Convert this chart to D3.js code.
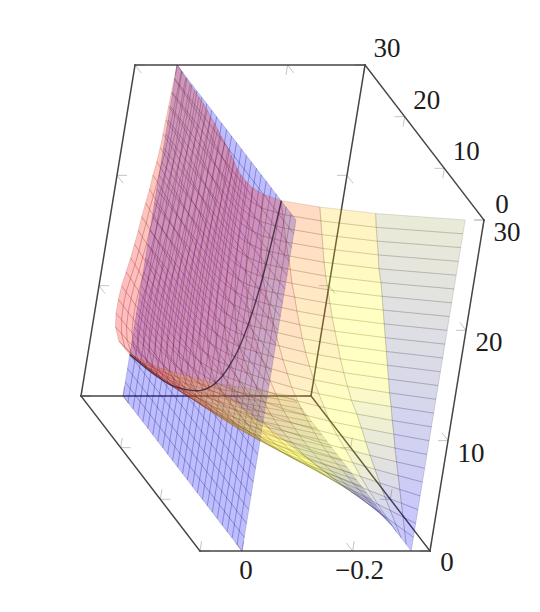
<!DOCTYPE html>
<html>
<head>
<meta charset="utf-8">
<script src="https://cdn.jsdelivr.net/npm/d3@7"></script>
<style>
  html, body { margin: 0; padding: 0; background: #fff; }
  text { font-family: "Liberation Serif", "DejaVu Serif", serif; font-size: 27px; fill: #1c1c1c; }
  .soft { filter: blur(0.45px); }
</style>
</head>
<body>
<div id="chart"></div>
<script>
'use strict';

// mesh positions along y and z
const gridSteps = [0, 1.25, 2.5, 3.75, 5, 6.25, 7.5, 8.75, 10, 11.25, 12.5, 13.75, 15,
    16.25, 17.5, 18.75, 20, 21.25, 22.5, 23.75, 25, 26.25, 27.5, 28.75, 30];

// surface x * 1000. Surface mirrors in y/z so only j <= i is listed
const surfaceRows = [
    [-306],
    [-306,-299],
    [-306,-292,-278],
    [-306,-285,-264,-244],
    [-306,-278,-251,-225,-201],
    [-306,-271,-238,-207,-175,-148],
    [-306,-264,-225,-189,-153,-125,-100],
    [-306,-257,-213,-170,-134,-104,-79,-58],
    [-306,-251,-201,-153,-116,-85,-61,-39,-19],
    [-306,-244,-189,-139,-100,-70,-44,-21,0,12],
    [-306,-238,-175,-125,-85,-55,-29,-4,11,21,27],
    [-306,-231,-164,-112,-73,-42,-14,7,19,26,31,34],
    [-306,-225,-153,-100,-61,-29,0,15,24,30,34,36,37],
    [-306,-219,-143,-89,-50,-16,8,21,29,33,36,37,37,37],
    [-306,-213,-134,-79,-39,-4,15,26,31,35,37,37,37,36,34],
    [-306,-207,-125,-70,-29,5,20,28,34,36,37,37,36,34,32,29],
    [-306,-201,-116,-61,-19,11,24,31,35,37,37,36,35,32,29,27,25],
    [-306,-195,-108,-53,-9,16,27,33,36,37,37,35,33,29,27,25,23,21],
    [-306,-189,-100,-44,0,21,30,35,37,37,36,34,31,28,25,23,21,19,17],
    [-306,-183,-92,-37,6,24,32,36,37,37,35,32,29,26,24,21,19,17,15,13],
    [-306,-175,-85,-29,11,27,34,37,37,36,33,30,27,25,22,20,18,15,13,11,9],
    [-306,-170,-79,-21,15,28,35,37,37,35,32,28,25,23,21,18,16,13,11,9,7,5],
    [-306,-164,-73,-14,19,31,36,37,36,34,30,27,24,22,19,17,14,12,9,7,5,4,3],
    [-306,-158,-67,-7,22,32,36,37,36,32,28,25,23,20,18,15,12,10,7,6,5,4,3,2],
    [-306,-153,-61,0,24,34,37,37,35,31,27,24,21,19,16,13,11,8,6,5,4,3,2,1,0]
];

// curve where the surface crosses the x = 0 plane
const curveY = [3.7, 4, 4.5, 5, 6, 7, 8, 10, 12, 14, 16.4, 20, 24, 30];
const curveZ = [30, 28, 25, 22.4, 18.7, 16, 14, 11.2, 9.3, 8, 6.9, 5.6, 4.7, 3.75];

const xTicks = [0, -0.2];
const xTickLabels = ['0', '\u22120.2'];
const yTicks = [0, 10, 20, 30];
const zTicks = [0, 10, 20, 30];

const xMin = -0.34, xMax = 0.076, yMax = 30, zMax = 30;
const width = 540, height = 612;

const svg = d3.select('#chart').append('svg')
    .attr('width', width)
    .attr('height', height)
    .style('display', 'block');

// oblique axes: every data axis moves the point along its own screen vector
const xPos = d3.scaleLinear().domain([xMin, xMax]).range([430, 200]);
const yShiftX = d3.scaleLinear().domain([0, yMax]).range([0, -119]);
const yShiftY = d3.scaleLinear().domain([0, yMax]).range([0, -155]);
const zShiftX = d3.scaleLinear().domain([0, zMax]).range([0, 54]);
const zShiftY = d3.scaleLinear().domain([0, zMax]).range([0, -331]);

function project(x, y, z) {
    return [xPos(x) + yShiftX(y) + zShiftX(z), 551 + yShiftY(y) + zShiftY(z)];
}

// larger = closer to the viewer
function depth(x, y, z) {
    return 1.34 * (x - xMin) / (xMax - xMin) - 2.135 * y / yMax + z / zMax;
}

const line = d3.line();
const colorScale = d3.scaleLinear()
    .domain([-0.306, -0.19, -0.15, 0.037])
    .range(['#0000ff', '#ffff00', '#ffff00', '#ff0000']);

function surfaceX(i, j) {
    return (i >= j ? surfaceRows[i][j] : surfaceRows[j][i]) / 1000;
}

// Box
const boxGroup = svg.append('g').attr('class', 'soft');
const boxEdges = [
    [[xMin, yMax, 0], [xMax, yMax, 0]],
    [[xMin, yMax, 0], [xMin, 0, 0]],
    [[xMin, yMax, 0], [xMin, yMax, zMax]],
    [[xMax, 0, 0], [xMax, yMax, 0]],
    [[xMax, yMax, 0], [xMax, yMax, zMax]],
    [[xMax, yMax, zMax], [xMin, yMax, zMax]],
    [[xMin, yMax, zMax], [xMin, 0, zMax]],
    [[xMin, 0, zMax], [xMin, 0, 0]],
    [[xMin, 0, 0], [xMax, 0, 0]]
];

// Ticks: two short stubs on the panels that meet at each box edge
const stubLen = 10;
function stub(from, axis, sign) {
    const step = [0, 0, 0];
    step[axis] = [xMax - xMin, yMax, zMax][axis] * 0.02;
    const to = from.map((v, k) => v + sign * step[k]);
    const a = project(...from), b = project(...to);
    const len = Math.hypot(b[0] - a[0], b[1] - a[1]);
    return [a, [a[0] + (b[0] - a[0]) * stubLen / len, a[1] + (b[1] - a[1]) * stubLen / len]];
}

const tickPaths = [];
xTicks.forEach(t => {
    [[0, 0], [yMax, 0], [yMax, zMax]].forEach(([y, z]) => {
        tickPaths.push(stub([t, y, z], 1, y === 0 ? 1 : -1));
        tickPaths.push(stub([t, y, z], 2, z === 0 ? 1 : -1));
    });
});
yTicks.forEach(t => {
    [[xMax, 0], [xMin, 0], [xMin, zMax]].forEach(([x, z]) => {
        tickPaths.push(stub([x, t, z], 0, x === xMin ? 1 : -1));
        tickPaths.push(stub([x, t, z], 2, z === 0 ? 1 : -1));
    });
});
zTicks.forEach(t => {
    [[xMax, yMax], [xMin, yMax], [xMin, 0]].forEach(([x, y]) => {
        tickPaths.push(stub([x, y, t], 0, x === xMin ? 1 : -1));
        tickPaths.push(stub([x, y, t], 1, y === 0 ? 1 : -1));
    });
});

boxGroup.selectAll('.tick-stub')
    .data(tickPaths)
    .enter().append('path')
    .attr('class', 'tick-stub')
    .attr('d', d => line(d))
    .attr('fill', 'none')
    .attr('stroke', '#bdbdbd')
    .attr('stroke-width', 0.9);

boxGroup.selectAll('.box-edge')
    .data(boxEdges)
    .enter().append('path')
    .attr('class', 'box-edge')
    .attr('d', d => line(d.map(p => project(...p))))
    .attr('fill', 'none')
    .attr('stroke', '#454545')
    .attr('stroke-width', 1.5)
    .attr('stroke-linecap', 'square');

// Blue plane at x = 0
const planeCells = [];
gridSteps.slice(0, -1).forEach((y, i) => {
    gridSteps.slice(0, -1).forEach((z, j) => {
        const y1 = gridSteps[i + 1], z1 = gridSteps[j + 1];
        planeCells.push([[0, y, z], [0, y1, z], [0, y1, z1], [0, y, z1]]);
    });
});
planeCells.sort((a, b) => d3.mean(a, p => depth(...p)) - d3.mean(b, p => depth(...p)));

svg.append('g').attr('class', 'soft').selectAll('.plane-cell')
    .data(planeCells)
    .enter().append('path')
    .attr('class', 'plane-cell')
    .attr('d', d => line(d.map(p => project(...p))) + 'Z')
    .attr('fill', '#0000ff')
    .attr('fill-opacity', 0.26)
    .attr('stroke', '#000060')
    .attr('stroke-opacity', 0.24)
    .attr('stroke-width', 0.7);

// Colored surface
const surfaceCells = [];
gridSteps.slice(0, -1).forEach((y, i) => {
    gridSteps.slice(0, -1).forEach((z, j) => {
        const corners = [[i, j], [i + 1, j], [i + 1, j + 1], [i, j + 1]]
            .map(([a, b]) => [surfaceX(a, b), gridSteps[a], gridSteps[b]]);
        surfaceCells.push(corners);
    });
});
surfaceCells.sort((a, b) => d3.mean(a, p => depth(...p)) - d3.mean(b, p => depth(...p)));

svg.append('g').attr('class', 'soft').selectAll('.surface-cell')
    .data(surfaceCells)
    .enter().append('path')
    .attr('class', 'surface-cell')
    .attr('d', d => line(d.map(p => project(...p))) + 'Z')
    .attr('fill', d => colorScale(d3.mean(d, p => p[0])))
    .attr('fill-opacity', d => d3.mean(d, p => p[0]) > -0.02 ? 0.26 : 0.23)
    .attr('stroke', d => d3.interpolateRgb(colorScale(d3.mean(d, p => p[0])), '#000')(0.6))
    .attr('stroke-opacity', 0.22)
    .attr('stroke-width', 0.7);

// Intersection curve
svg.append('path')
    .attr('class', 'soft')
    .attr('d', d3.line().curve(d3.curveCatmullRom)(curveY.map((y, i) => project(0, y, curveZ[i]))))
    .attr('fill', 'none')
    .attr('stroke', '#3a2440')
    .attr('stroke-opacity', 0.85)
    .attr('stroke-width', 1.4);

// Tick labels
const labels = svg.append('g');
function addLabel(pos, dx, dy, txt) {
    labels.append('text')
        .attr('x', pos[0] + dx)
        .attr('y', pos[1] + dy)
        .attr('text-anchor', 'middle')
        .text(txt);
}
xTicks.forEach((t, i) => addLabel(project(t, 0, 0), i === 0 ? 4 : 7, 28, xTickLabels[i]));
zTicks.forEach(t => addLabel(project(xMin, 0, t), t === 0 ? 17 : 23, t === 0 ? 20 : 21, String(t)));
yTicks.forEach(t => addLabel(project(xMin, t, zMax), t === 0 ? 18 : 22, t === 0 ? -7 : -8, String(t)));
</script>
</body>
</html>
